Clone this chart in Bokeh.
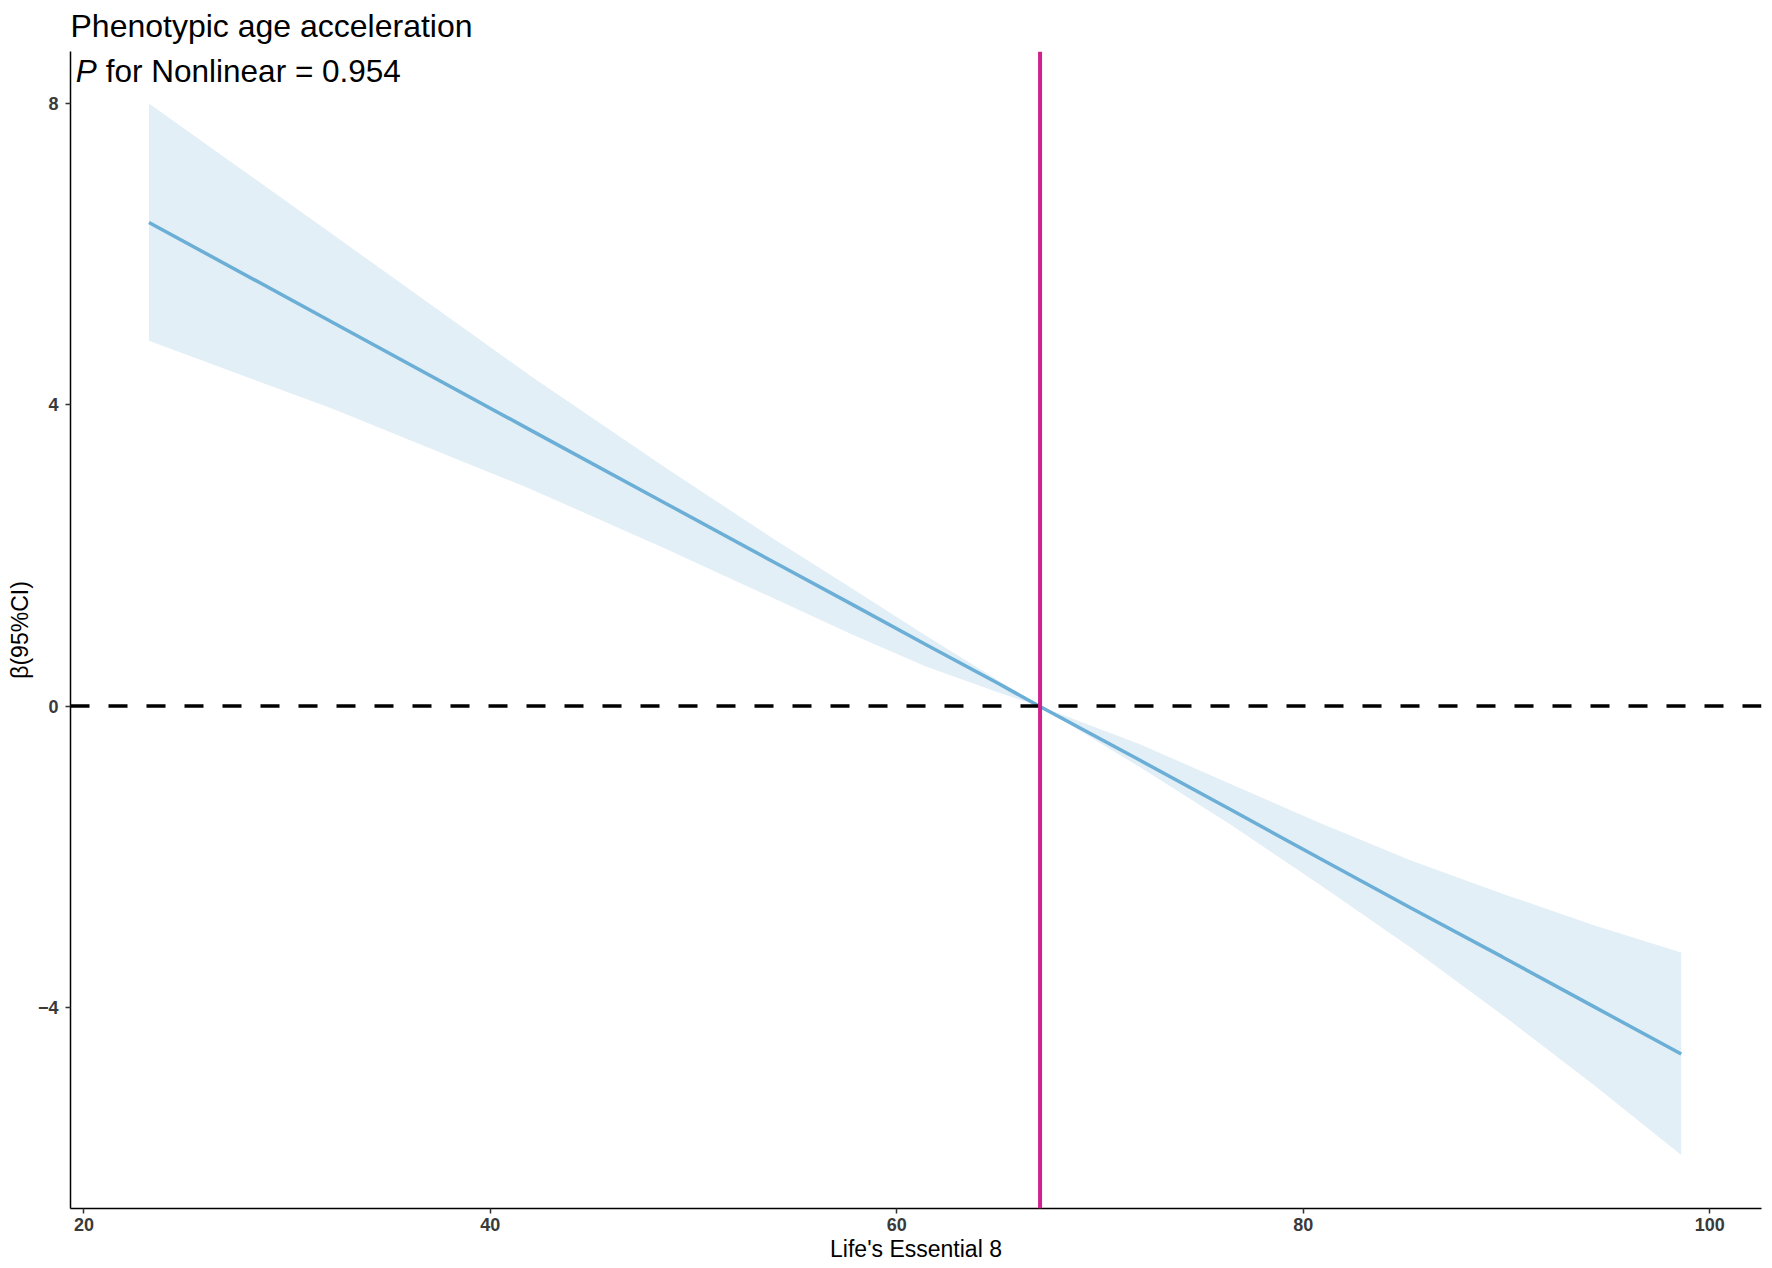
from bokeh.plotting import figure
from bokeh.models import Span, Label, Range1d, FixedTicker, CustomJSTickFormatter
from bokeh.embed import file_html
from bokeh.resources import INLINE

# ---- data ----
le8 = [23.2, 32.2, 42.0, 48.7, 54.1, 57.8, 61.4, 65.0, 67.0, 71.9, 76.4, 80.8, 85.3, 89.8, 94.3, 98.6]
beta = [6.42, 5.10, 3.66, 2.68, 1.89, 1.35, 0.82, 0.30, 0.0, -0.71, -1.37, -2.02, -2.68, -3.33, -3.99, -4.62]
upper = [8.00, 6.27, 4.38, 3.15, 2.19, 1.56, 0.94, 0.34, 0.0, -0.50, -1.03, -1.55, -2.05, -2.49, -2.91, -3.27]
lower = [4.85, 3.95, 2.88, 2.08, 1.41, 0.95, 0.53, 0.18, 0.0, -0.80, -1.57, -2.37, -3.21, -4.10, -5.03, -5.96]
ref_x = 67.05
x_ticks = [20, 40, 60, 80, 100]
y_ticks = [-4, 0, 4, 8]
title_text = "Phenotypic age acceleration"
p_value_text = "for Nonlinear = 0.954"
x_label = "Life's Essential 8"
y_label = "β(95%CI)"

FONT = "Liberation Sans"

p = figure(width=1770, height=1266, output_backend="svg", toolbar_location=None,
           x_range=Range1d(19.34, 102.55), y_range=Range1d(-6.67, 8.69),
           min_border_left=70, min_border_right=9, min_border_top=51, min_border_bottom=58)
p.grid.visible = False
p.outline_line_color = None
p.background_fill_color = "white"

p.title.text = title_text
p.title.text_font = FONT
p.title.text_font_size = "32px"
p.title.text_font_style = "normal"
p.title.text_color = "black"
p.title.align = "left"
p.title.vertical_align = "top"
p.title.offset = 0
p.title.standoff = 11

p.varea(x=le8, y1=lower, y2=upper, fill_color="#E3EFF7")
p.line(le8, beta, line_color="#6BAED6", line_width=3.5)

p.add_layout(Span(location=0, dimension="width", line_color="black",
                  line_width=3.5, line_dash="19 19"))
p.add_layout(Span(location=ref_x, dimension="height", line_color="#D0218C", line_width=4))

p.xaxis.ticker = FixedTicker(ticks=x_ticks)
p.yaxis.ticker = FixedTicker(ticks=y_ticks)
p.yaxis.formatter = CustomJSTickFormatter(
    code="return tick < 0 ? '\u2212' + Math.abs(tick) : tick.toString();")

for ax in (p.xaxis[0], p.yaxis[0]):
    ax.axis_line_color = "black"
    ax.axis_line_width = 1.5
    ax.major_tick_line_color = "#333333"
    ax.major_tick_line_width = 1.5
    ax.major_tick_out = 5
    ax.major_tick_in = 0
    ax.minor_tick_line_color = None
    ax.major_label_text_font = FONT
    ax.major_label_text_font_size = "18px"
    ax.major_label_text_font_style = "bold"
    ax.major_label_text_color = "#3a3a3a"
    ax.axis_label_text_font = FONT
    ax.axis_label_text_font_size = "23px"
    ax.axis_label_text_font_style = "normal"
    ax.axis_label_text_color = "black"
    ax.axis_label_standoff = 2

p.xaxis.major_label_standoff = 4
p.yaxis.major_label_standoff = 7

p.xaxis.axis_label = x_label
p.yaxis.axis_label = y_label

p.add_layout(Label(x=19.6, y=8.43, text="P", text_font=FONT, text_font_style="italic",
                   text_font_size="31.5px", text_color="black", text_baseline="alphabetic"))
p.add_layout(Label(x=19.6, y=8.43, x_offset=30, text=p_value_text, text_font=FONT,
                   text_font_size="31.5px", text_color="black", text_baseline="alphabetic"))

open("out.html", "w").write(file_html(p, INLINE))
